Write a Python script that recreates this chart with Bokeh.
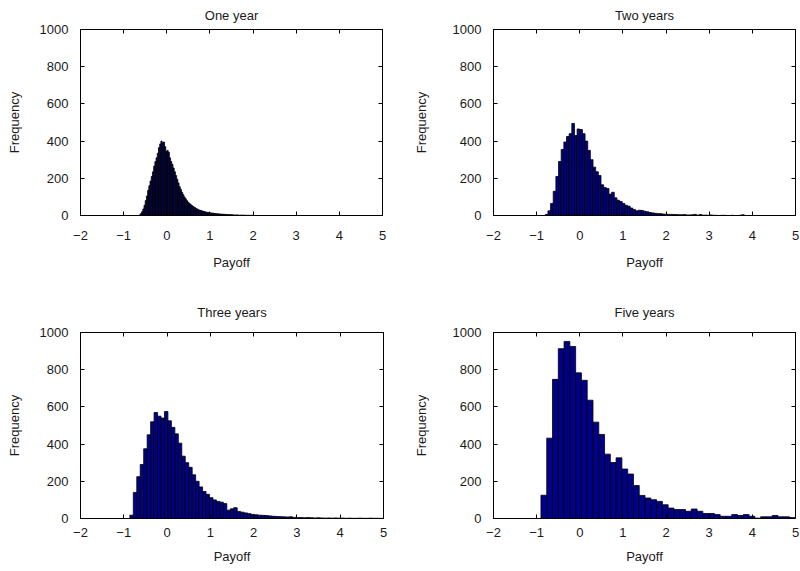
import numpy as np
from bokeh.plotting import figure
from bokeh.models import Range1d, LinearAxis, FixedTicker, ColumnDataSource
from bokeh.layouts import row, column
from bokeh.embed import file_html
from bokeh.resources import INLINE

# ---------------- data ----------------
x_ticks = [-2, -1, 0, 1, 2, 3, 4, 5]
y_ticks = [0, 200, 400, 600, 800, 1000]
x_label = "Payoff"
y_label = "Frequency"

titles = ["One year", "Two years", "Three years", "Five years"]

# histogram bin starts and widths (payoff units)
bin_start_1y = -0.64
bin_width_1y = 0.028
counts_1y = [3, 10, 20, 35, 55, 80, 105, 135, 160, 185,
             210, 235, 265, 290, 310, 335, 365, 385, 400, 390,
             395, 370, 345, 350, 340, 310, 290, 275, 255, 235,
             215, 195, 175, 155, 140, 125, 112, 100, 90, 80,
             72, 66, 60, 55, 50, 45, 41, 37, 33, 30,
             28, 26, 24, 22, 20, 18, 17, 16, 15, 14,
             13, 12, 11, 10, 9, 9, 8, 8, 7, 7,
             6, 6, 5, 5, 5, 4, 4, 4, 3, 3,
             3, 3, 2, 2, 2, 2, 2, 2, 1, 1,
             1, 1, 1, 1]

bin_start_2y = -0.80
bin_width_2y = 0.0615
counts_2y = [5, 25, 65, 130, 210, 290, 355, 395, 425, 440,
             495, 430, 465, 462, 440, 400, 350, 300, 260, 235,
             215, 165, 150, 145, 115, 125, 95, 82, 75, 65,
             55, 50, 40, 32, 25, 28, 27, 23, 20, 16,
             14, 12, 10, 10, 8, 7, 6, 6, 5, 5,
             4, 4, 5, 3, 3, 4, 6, 2, 5, 2,
             2, 1, 3, 1, 1, 0, 1, 1, 0, 0,
             1, 0, 0, 1, 4, 0]

bin_start_3y = -0.86
bin_width_3y = 0.08
counts_3y = [18, 140, 225, 290, 375, 450, 520, 570, 550, 540,
             575, 525, 490, 455, 405, 335, 300, 275, 235, 200,
             170, 145, 130, 112, 100, 92, 88, 80, 45, 52,
             58, 38, 34, 30, 26, 22, 20, 18, 17, 16,
             14, 12, 11, 10, 9, 8, 9, 6, 5, 5,
             4, 5, 4, 3, 4, 3, 2, 3, 2, 3,
             2, 2, 1, 2, 1, 1, 2, 1, 1, 2,
             1, 1, 1]

bin_start_5y = -0.90
bin_width_5y = 0.134
counts_5y = [125, 432, 748, 913, 952, 925, 783, 743, 636, 518,
             452, 346, 301, 326, 266, 239, 177, 124, 110, 101,
             92, 74, 56, 48, 48, 39, 51, 39, 27, 27,
             21, 12, 12, 21, 16, 21, 12, 2, 9, 9,
             16, 9, 9, 5]

# ---------------- styling ----------------
FONT = "Liberation Sans"
TXT = "#1a1a1a"
BAR_FILL = "#00008a"


def panel(title, start, width, counts, fw, fh, bl, br, bt, bb,
          tick_standoff, label_standoff, title_standoff, ylabel_standoff):
    p = figure(width=fw, height=fh, output_backend="svg", toolbar_location=None,
               x_range=Range1d(-2, 5), y_range=Range1d(0, 1000),
               min_border_left=bl, min_border_right=br,
               min_border_top=bt, min_border_bottom=bb,
               title=title, x_axis_label=x_label, y_axis_label=y_label)
    edges = start + width * np.arange(len(counts) + 1)
    src = ColumnDataSource(dict(left=edges[:-1], right=edges[1:], top=counts))
    p.quad(left="left", right="right", bottom=0, top="top", source=src,
           fill_color=BAR_FILL, line_color="black", line_width=0.8)

    p.title.text_font = FONT
    p.title.text_font_size = "13px"
    p.title.text_font_style = "normal"
    p.title.text_color = TXT
    p.title.align = "center"
    p.title.vertical_align = "top"
    p.title.standoff = title_standoff

    p.xgrid.visible = False
    p.ygrid.visible = False
    p.outline_line_color = "black"
    p.outline_line_width = 1
    p.background_fill_color = "white"
    p.border_fill_color = "white"

    p.xaxis.ticker = FixedTicker(ticks=x_ticks)
    p.yaxis.ticker = FixedTicker(ticks=y_ticks)
    for ax in (p.xaxis[0], p.yaxis[0]):
        ax.axis_line_color = "black"
        ax.major_tick_in = 4
        ax.major_tick_out = 0
        ax.major_tick_line_color = "black"
        ax.minor_tick_line_color = None
        ax.major_label_text_font = FONT
        ax.major_label_text_font_size = "13px"
        ax.major_label_text_color = TXT
        ax.axis_label_text_font = FONT
        ax.axis_label_text_font_size = "13px"
        ax.axis_label_text_font_style = "normal"
        ax.axis_label_text_color = TXT
    p.xaxis.major_label_standoff = tick_standoff
    p.xaxis.axis_label_standoff = label_standoff
    p.yaxis.major_label_standoff = 12
    p.yaxis.axis_label_standoff = ylabel_standoff

    # tick-only mirror axes on the right and top (matlab box style)
    for loc, tk in (("right", y_ticks), ("above", x_ticks)):
        ax = LinearAxis(ticker=FixedTicker(ticks=tk),
                        major_label_text_font_size="1px",
                        major_label_text_color=None,
                        major_label_standoff=0,
                        major_tick_in=4, major_tick_out=0,
                        major_tick_line_color="black",
                        minor_tick_line_color=None,
                        axis_line_color="black")
        p.add_layout(ax, loc)
    return p


p1 = panel(titles[0], bin_start_1y, bin_width_1y, counts_1y,
           400, 290, 80, 18, 29, 75, 15, 12, 9, 15)
p2 = panel(titles[1], bin_start_2y, bin_width_2y, counts_2y,
           400, 290, 93, 5, 29, 75, 15, 12, 9, 21)
p3 = panel(titles[2], bin_start_3y, bin_width_3y, counts_3y,
           400, 281, 80, 17, 42, 53, 9, 9, 22, 15)
p4 = panel(titles[3], bin_start_5y, bin_width_5y, counts_5y,
           400, 281, 93, 5, 42, 53, 9, 9, 22, 21)

layout = column(row(p1, p2), row(p3, p4))

with open("out.html", "w") as f:
    f.write(file_html(layout, INLINE))
